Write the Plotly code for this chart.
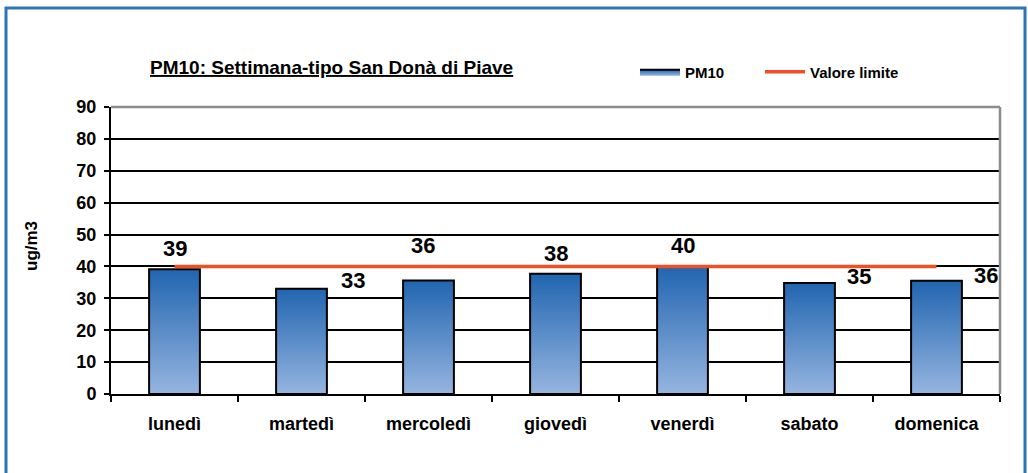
import plotly.graph_objects as go

days = ["lunedì", "martedì", "mercoledì", "giovedì", "venerdì", "sabato", "domenica"]
pm10 = [39.1, 33.0, 35.6, 37.7, 40.0, 34.8, 35.5]
limite = [40, 40, 40, 40, 40, 40, 40]
y_ticks = [0, 10, 20, 30, 40, 50, 60, 70, 80, 90]

# label offsets in pixels (style only)
lab_dx = [0, 51, -6, 0, 0, 49, 49]
lab_dy = [21, 8, 35, 20, 21, 7, 5]

W, H = 1028, 473
L, R, T, B = 111, 28, 107, 79
pw, ph = W - L - R, H - T - B

half = 0.2
fig = go.Figure()

for i, (d, v) in enumerate(zip(days, pm10)):
    xs = [i - half, i + half, i + half, i - half, i - half]
    ys = [0, 0, v, v, 0]
    fig.add_trace(go.Scatter(
        x=xs, y=ys, mode="lines", fill="toself",
        fillgradient=dict(type="vertical",
                          colorscale=[[0, "#96b5e0"], [1, "#2165b0"]],
                          start=0, stop=v),
        line=dict(color="black", width=2),
        name="<b>PM10</b>", legendgroup="pm10", showlegend=(i == 0),
        legend="legend", hoverinfo="skip",
    ))

fig.add_trace(go.Scatter(
    x=list(range(len(days))), y=limite, mode="lines",
    line=dict(color="#f04e23", width=3.5),
    name="<b>Valore limite</b>", legend="legend2",
))

for i, v in enumerate(pm10):
    fig.add_annotation(x=i, y=v, text=f"<b>{v:.0f}</b>", showarrow=False,
                       xshift=lab_dx[i], yshift=lab_dy[i],
                       font=dict(size=22, color="black", family="Liberation Sans, Arial"))

# title
fig.add_annotation(x=(148 - L) / pw, y=(H - B - 67) / ph, xref="paper", yref="paper",
                   xanchor="left", yanchor="middle", showarrow=False,
                   text="<u><b>PM10: Settimana-tipo San Donà di Piave</b></u>",
                   font=dict(size=19, color="black", family="Liberation Sans, Arial"))

# y axis title
fig.add_annotation(x=(31 - L) / pw, y=(H - B - 246) / ph, xref="paper", yref="paper",
                   xanchor="center", yanchor="middle", showarrow=False, textangle=-90,
                   text="<b>ug/m3</b>",
                   font=dict(size=17, color="black", family="Liberation Sans, Arial"))

# outer blue border
fig.add_shape(type="rect", xref="paper", yref="paper",
              x0=(6 - L) / pw, x1=(1025 - L) / pw,
              y0=(H - B - 490) / ph, y1=(H - B - 8) / ph,
              line=dict(color="#2e75b6", width=3), layer="above")
# plot area gray top / right border
fig.add_shape(type="line", xref="paper", yref="paper", x0=0, x1=1, y0=1, y1=1,
              line=dict(color="#8c8c8c", width=2.5), layer="above")
fig.add_shape(type="line", xref="paper", yref="paper", x0=1, x1=1, y0=0, y1=1,
              line=dict(color="#8c8c8c", width=2.5), layer="above")

leg_common = dict(orientation="h", xanchor="left", yanchor="middle",
                  y=(H - B - 72) / ph,
                  font=dict(size=15, family="Liberation Sans, Arial"),
                  itemwidth=40, tracegroupgap=0, bgcolor="rgba(0,0,0,0)")

fig.update_layout(
    width=W, height=H,
    margin=dict(l=L, r=R, t=T, b=B, autoexpand=False),
    plot_bgcolor="white", paper_bgcolor="white",
    font=dict(family="Liberation Sans, Arial", color="black"),
    showlegend=True,
    legend=dict(x=(635 - L) / pw, **leg_common),
    legend2=dict(x=(760 - L) / pw, **leg_common),
    xaxis=dict(
        automargin=False,
        range=[-0.5, len(days) - 0.5],
        tickmode="array", tickvals=list(range(len(days))),
        ticktext=[f"<b>{d}</b>" for d in days],
        ticks="", showgrid=False, zeroline=False,
        showline=True, linecolor="black", linewidth=2,
        tickfont=dict(size=18),
        ticklabelstandoff=12,
        minor=dict(tickmode="linear", tick0=-0.5, dtick=1, ticks="outside",
                   ticklen=6, tickcolor="black", tickwidth=1.5, showgrid=False),
    ),
    yaxis=dict(
        automargin=False,
        range=[0, 90], tickmode="array", tickvals=y_ticks,
        ticktext=[f"<b>{t}</b>" for t in y_ticks],
        ticks="outside", ticklen=5, tickcolor="black", tickwidth=1.5,
        showgrid=True, gridcolor="black", gridwidth=1.5,
        zeroline=False, showline=True, linecolor="black", linewidth=2,
        tickfont=dict(size=18),
        ticklabelstandoff=4,
    ),
)

fig.write_html("out.html", config={"displayModeBar": False})

# remove the default page margin so the figure sits at the window origin
with open("out.html", encoding="utf-8") as f:
    html = f.read()
html = html.replace("<body>", '<body style="margin:0;padding:0;overflow:hidden">', 1)
with open("out.html", "w", encoding="utf-8") as f:
    f.write(html)
